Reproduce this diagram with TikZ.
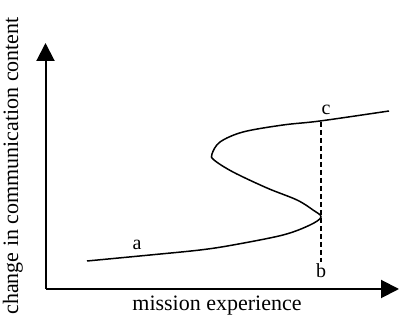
\documentclass[tikz,border=0pt]{standalone}
\usepackage{fontspec}
\setmainfont{Liberation Serif}
\usetikzlibrary{arrows.meta}
\begin{document}
\begin{tikzpicture}[x=1pt,y=1pt,
  axis/.style={line width=2pt,-{Triangle[length=18pt,width=18pt]}},
  curve/.style={line width=1.5pt},
  guide/.style={line width=1.4pt,dash pattern=on 5pt off 3pt},
  lbl/.style={font=\fontsize{20}{22}\selectfont,inner sep=0pt},
  axlbl/.style={font=\fontsize{22}{24}\selectfont,inner sep=0pt}]
\useasboundingbox (0,0) rectangle (399,326);
\coordinate (o) at (45.5,37);
\coordinate (ytip) at (45.5,283);
\coordinate (xtip) at (399,37);
\draw[axis] (o) -- (ytip);
\draw[axis] (o) -- (xtip);
\draw[curve] plot[smooth,tension=0.55] coordinates {(87,65) (150,71) (200,76) (233,81) (283,91) (310,101) (321,109) (313,116) (297,126) (267,138) (233,154) (214,166) (212,172) (220,184) (243,194) (283,201) (320,205) (389,215)};
\coordinate (ctop) at (321,204);
\coordinate (cbot) at (321,64);
\draw[guide] (ctop) -- (cbot);
\node[lbl] (a) at (137,81) {a};
\node[lbl] (b) at (321,55) {b};
\node[lbl] (c) at (326,216) {c};
\node[axlbl,anchor=base] (xl) at (217,15) {mission experience};
\node[axlbl,anchor=base,rotate=90] (yl) at (18,160) {change in communication content};
\end{tikzpicture}
\end{document}
